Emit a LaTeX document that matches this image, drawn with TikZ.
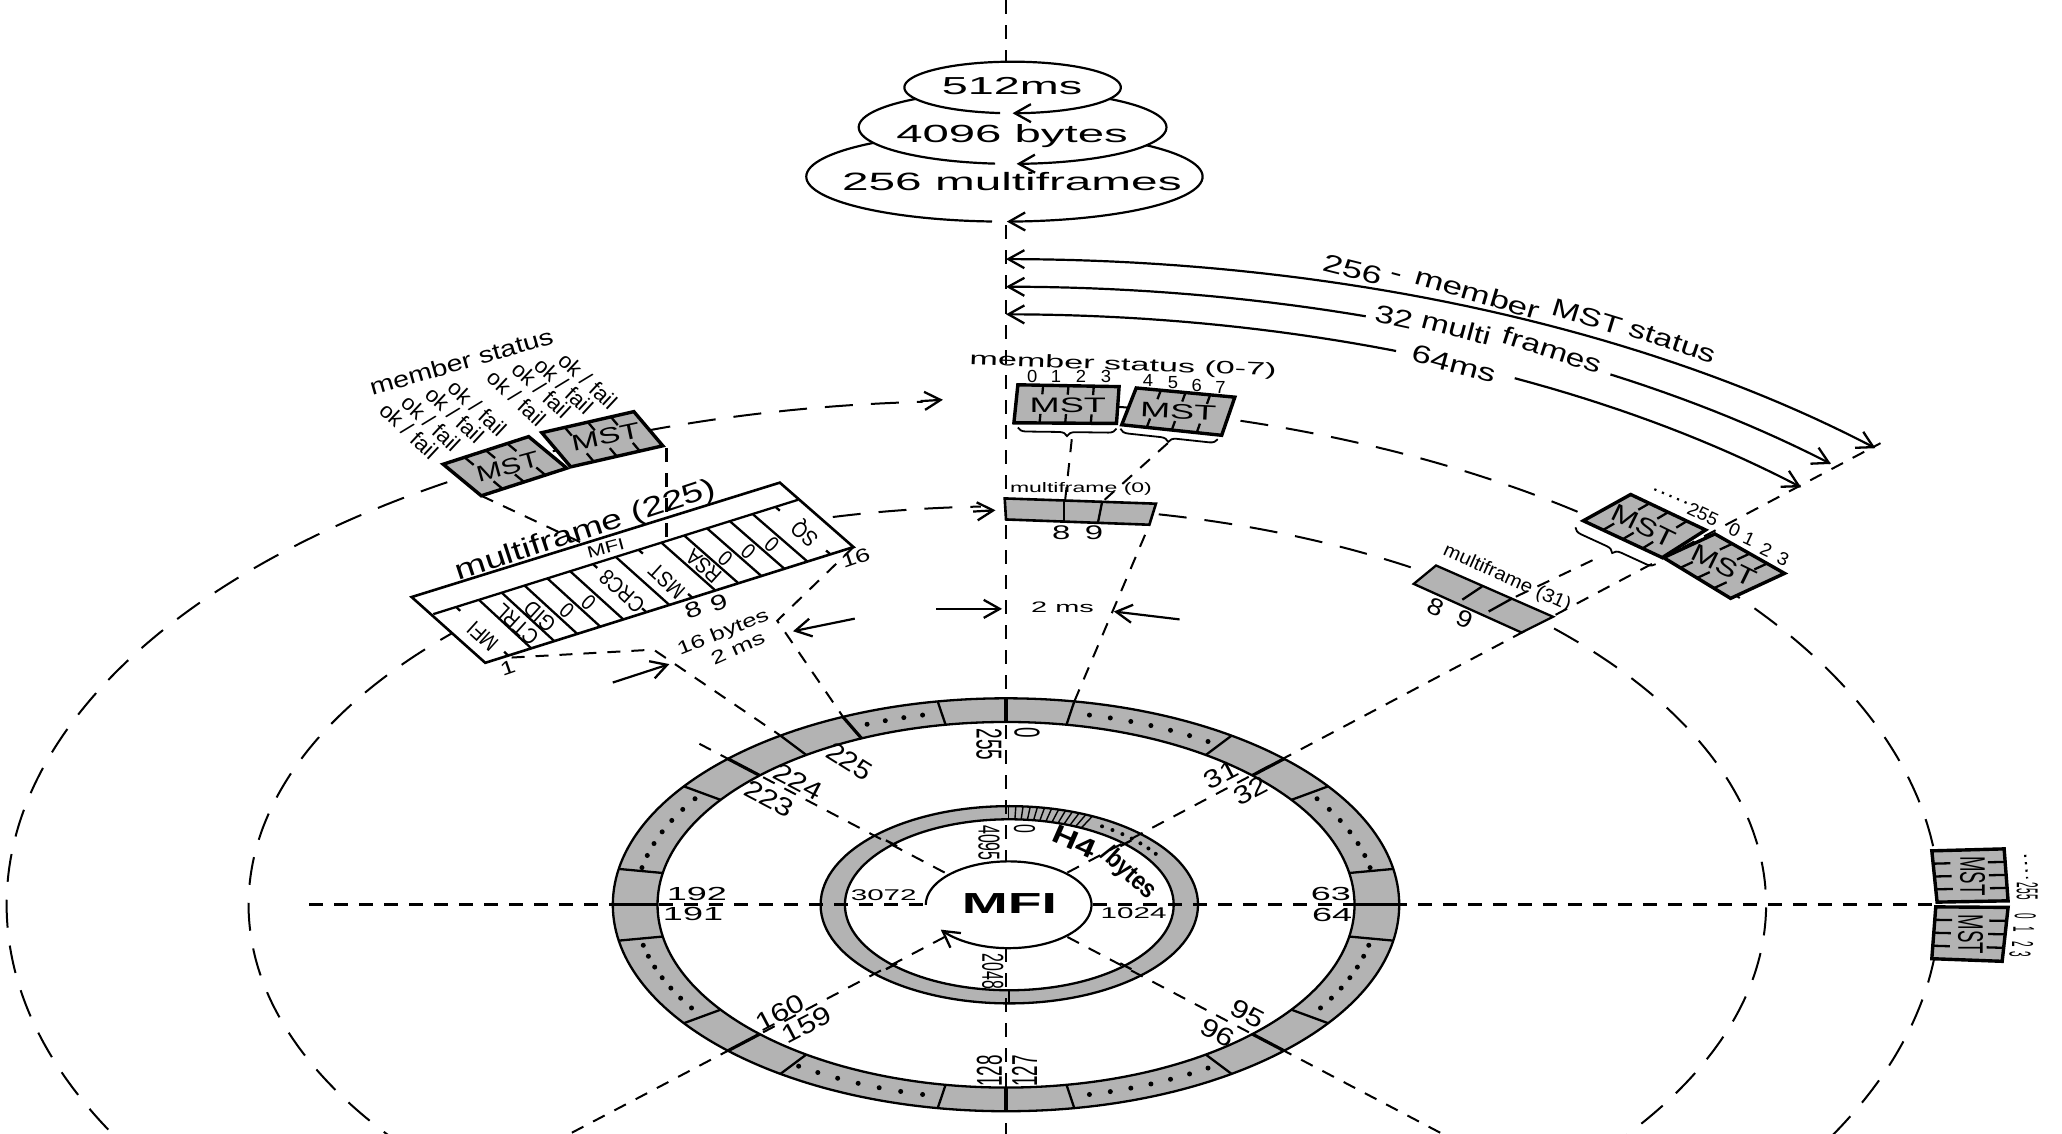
\documentclass[tikz,border=0pt]{standalone}
\usepackage{fontspec}
\setmainfont{Liberation Sans}
\usetikzlibrary{calc,arrows.meta,decorations.pathreplacing}
\definecolor{bandgray}{HTML}{B3B3B3}
\tikzset{
  lbl/.style={inner sep=0pt,outer sep=0pt,text=black},
  declare function={px(\t,\r)=765+\r*sin(\t); py(\t,\r)=688-.525*\r*cos(\t);},
  spoke/.style={line width=1pt,dash pattern=on 6.5pt off 5.5pt},
  axis/.style={line width=1.4pt,dash pattern=on 7pt off 5.5pt},
  ringd/.style={line width=1pt,dash pattern=on 14pt off 9pt},
  edge/.style={line width=1.15pt},
  boxedge/.style={line width=1.7pt,line join=miter},
  barb/.style={line width=1.1pt,>={Straight Barb[length=8pt,width=9pt,line width=1.15pt]}},
  br/.style={decorate,decoration={brace,amplitude=4pt,mirror},line width=.9pt}
}
% direct label: screen angle, em along the baseline, em across it
\newcommand\labs[7]{\node[lbl,shift={(#2,#3)},rotate=#4,xscale={#5/15.21},yscale={#6/15.21},transform shape] (#1) at (0,0) {#7};}
% label given by its angle before the vertical squash k
\newcommand\lab[8][]{%
  \pgfmathsetmacro\labphi{atan2(#6*sin(#5),cos(#5))}%
  \pgfmathsetmacro\labf{sqrt(cos(#5)*cos(#5)+#6*#6*sin(#5)*sin(#5))}%
  \node[lbl,#1,shift={(#3,#4)},rotate=\labphi,xscale={#7*\labf/15.21},yscale={#7*#6/\labf/15.21},transform shape] (#2) at (0,0) {#8};}
\newcommand\earc[7][]{\draw[#1] plot[domain=#6:#7,samples=120,smooth] ({#2+#4*sin(\x)},{#3-#5*cos(\x)});}
\newcommand\mstbox[9]{%
  \coordinate (#1a) at (#2,#3); \coordinate (#1b) at (#4,#5);
  \coordinate (#1c) at (#6,#7); \coordinate (#1d) at (#8,#9);
  \draw[boxedge,fill=bandgray] (#1a)--(#1b)--(#1c)--(#1d)--cycle;
  \foreach \f in {.25,.5,.75}{
    \draw[edge] ($(#1a)!\f!(#1b)$) -- ($($(#1a)!\f!(#1b)$)!.24!($(#1d)!\f!(#1c)$)$);
    \draw[edge] ($(#1d)!\f!(#1c)$) -- ($($(#1d)!\f!(#1c)$)!.24!($(#1a)!\f!(#1b)$)$);
  }}
\begin{document}
\begin{tikzpicture}[x=.6575pt,y=-.6575pt]
\useasboundingbox (0,0) rectangle (1568,862.3);
\clip (0,0) rectangle (1568,862.3);
% ---- rings
\coordinate (C) at (765,688);
\coordinate (Ci) at (767.5,688);
\draw[edge,fill=bandgray,even odd rule] (C) ellipse [x radius=299,y radius=157] (C) ellipse [x radius=265,y radius=139];
\draw[edge,fill=bandgray,even odd rule] (Ci) ellipse [x radius=143.5,y radius=75] (Ci) ellipse [x radius=125,y radius=65];
\foreach \t in {10,35,55,80,100,125,145,170,-10,-35,-55,-80,-100,-125,-145,-170}{
  \draw[edge] ({px(\t,265)},{py(\t,265)}) -- ({px(\t,299)},{py(\t,299)});}
\foreach \t in {0,45,90,135,180,-45,-90,-135,-24.5}{
  \draw[line width=1.6pt] ({px(\t,265)},{py(\t,265)}) -- ({px(\t,299)},{py(\t,299)});}
\foreach \a/\b/\n in {13/33/7,57/79/7,102/122/7,147/167/7,-13/-22/4,-57/-79/7,-102/-122/7,-146/-167/7}{
  \pgfmathtruncatemacro\nn{\n-1}
  \foreach \i in {0,...,\nn}{
    \pgfmathsetmacro\ttt{\a+(\b-\a)*\i/\nn}
    \fill ({px(\ttt,282)},{py(\ttt,282)}) circle [radius=1.25pt];
  }}
\foreach \t in {0,2.2,...,28}{
  \draw[line width=.7pt] ({px(\t,125)+2},{py(\t,125)}) -- ({px(\t,143)+2},{py(\t,143)});}
\foreach \i in {0,...,6}{
  \pgfmathsetmacro\ttt{32+\i*4.1}
  \fill ({px(\ttt,134)+2},{py(\ttt,134)}) circle [radius=1pt];
}
\foreach \t in {45,135,-45,-135}{
  \draw[edge] ({px(\t,120)+2},{py(\t,120)}) -- ({px(\t,132)+2},{py(\t,132)});}
\draw[edge] ({px(180,125)+2},{py(180,125)}) -- ({px(180,143)+2},{py(180,143)});
% hub
\draw[barb,->] plot[domain=-90:235,samples=100,smooth] ({767+63*sin(\x)},{688-33*cos(\x)});
% ---- axes and spokes
\coordinate (vT) at (765,0); \coordinate (vH) at (765,655);
\coordinate (vB) at (765,721); \coordinate (vE) at (765,862);
\coordinate (hL) at (235,688); \coordinate (hM) at (704,688);
\coordinate (hN) at (831,688); \coordinate (hR) at (1470,688);
\coordinate (sp45e) at (1430,337);
\draw[axis] (vT) -- (vH);
\draw[axis] (vB) -- (vE);
\draw[axis] (hL) -- (hM);
\draw[axis] (hN) -- (hR);
\draw[spoke] ({px(45,66)},{py(45,66)}) -- (sp45e);
\draw[spoke] ({px(-45,66)},{py(-45,66)}) -- ({px(-45,337)},{py(-45,337)});
\draw[spoke] ({px(135,66)},{py(135,66)}) -- ({px(135,720)},{py(135,720)});
\draw[spoke] ({px(-135,66)},{py(-135,66)}) -- ({px(-135,720)},{py(-135,720)});
% ---- dashed big ellipses
\earc[ringd]{740}{688}{735}{383}{-160}{-3}
\earc[ringd]{740}{688}{735}{383}{5}{160}
\earc[ringd]{766}{688}{577}{303}{-160}{-2}
\earc[ringd]{766}{688}{577}{303}{8}{160}
\coordinate (a1s) at (700,305); \coordinate (a1e) at (717,304);
\draw[barb,->] (a1s) -- (a1e);
\coordinate (a2s) at (740,389); \coordinate (a2e) at (757,388);
\draw[barb,->] (a2s) -- (a2e);
% ---- stacked ellipses
\fill[white] (763.8,134.3) ellipse [x radius=150.7,y radius=34.2];
\earc[barb,->]{763.8}{134.3}{150.7}{34.2}{183.6}{539.3}
\fill[white] (770,96.8) ellipse [x radius=117,y radius=27.8];
\earc[barb,->]{770}{96.8}{117}{27.8}{186.5}{538.5}
\fill[white] (770,66.5) ellipse [x radius=82.3,y radius=19.6];
\earc[barb,->]{770}{66.5}{82.3}{19.6}{186.6}{540}
\lab{e1}{769.6}{65.6}{0}{.525}{35.6}{512ms}
\lab{e2}{769.6}{103.5}{0}{.525}{36}{4096 bytes}
\lab{e3}{769.5}{138}{0}{.525}{36.3}{256 multiframes}
% ---- big arcs with text
\earc[barb,<->]{765}{688}{935}{491}{0}{45}
\earc[barb,<-]{765}{688}{895}{470}{0}{17.8}
\earc[barb,->]{765}{688}{895}{470}{30.9}{44.5}
\earc[barb,<-]{765}{688}{855}{449}{0}{20.3}
\earc[barb,->]{765}{688}{855}{449}{26.9}{45}
\labs{a11}{1028.5}{205}{-14}{27.3}{19}{256}
\labs{a12}{1061}{211}{-15}{27}{19}{-}
\labs{a13}{1123.5}{223}{-16.5}{26.7}{19}{member}
\labs{a14}{1207}{241}{-17}{25.6}{19}{MST}
\labs{a15}{1272}{260}{-18.5}{25.5}{19}{status}
\labs{a21}{1060}{241}{-12}{26}{19}{32}
\labs{a22}{1107.5}{249.5}{-15}{25.5}{19}{multi}
\labs{a23}{1180.5}{266}{-18}{25.5}{19}{frames}
\labs{a31}{1105.5}{276.6}{-15}{26.7}{19}{64ms}
% ---- top MST boxes
\mstbox{ma}{774}{292.6}{851}{294}{849}{322}{771}{321.5}
\mstbox{mb}{864}{295}{939}{302}{929}{331}{853}{323}
\lab{mat}{812}{308}{0}{.58}{27.5}{MST}
\lab{mbt}{896}{313}{-5}{.58}{27.5}{MST}
\lab{ms07}{854}{278}{-4}{.525}{26}{member status (0-7)}
\foreach \n/\x/\y in {0/785/286,1/803/286,2/822/286,3/841/286,4/873/289,5/892/291,6/910/293,7/928/295}{
  \lab{dg\n}{\x}{\y}{0}{.95}{14}{\n}}
\coordinate (bra) at (774,325); \coordinate (brb) at (849,326);
\coordinate (brc) at (852,326); \coordinate (brd) at (926,334);
\draw[br] (bra) -- (brb);
\draw[br] (brc) -- (brd);
\coordinate (bt1) at (815,334); \coordinate (mfd1) at (810,380);
\coordinate (bt2) at (888,337); \coordinate (mfd2) at (840,380);
\draw[spoke] (bt1) -- (mfd1);
\draw[spoke] (bt2) -- (mfd2);
% ---- multiframe 0
\coordinate (f0a) at (764,379); \coordinate (f0b) at (879,383);
\coordinate (f0c) at (874,399); \coordinate (f0d) at (765,395);
\draw[spoke] ({px(10,299)},{py(10,299)}) -- (f0c);
\draw[boxedge,line width=1.3pt,fill=bandgray] (f0a)--(f0b)--(f0c)--(f0d)--cycle;
\coordinate (f0e) at (809,380); \coordinate (f0f) at (809,396);
\coordinate (f0g) at (838,382); \coordinate (f0h) at (835,397);
\draw[edge] (f0e) -- (f0f);
\draw[edge] (f0g) -- (f0h);
\lab{mf0}{822}{372}{0}{.6}{17.5}{multiframe (0)}
\lab{f08}{807}{405}{0}{.6}{25}{8}
\lab{f09}{832}{405}{0}{.6}{25}{9}
% ---- 2 ms
\coordinate (m1) at (712,463); \coordinate (m2) at (762,463);
\coordinate (m3) at (897,471); \coordinate (m4) at (847,465);
\draw[barb,->] (m1) -- (m2);
\draw[barb,->] (m3) -- (m4);
\lab{twoms}{808}{462}{0}{.525}{22}{2 ms}
% ---- right MST boxes
\coordinate (br1) at (1211,426); \coordinate (br2) at (1150,455);
\draw[spoke] (br1) -- (br2);
\mstbox{mc}{1240}{376}{1297}{403}{1264}{424}{1204}{396}
\mstbox{md}{1304}{406}{1357}{436}{1316}{455}{1265}{424}
\labs{mct}{1250}{400}{-26}{24.5}{19}{MST}
\labs{mdt}{1311}{430}{-26}{24.5}{19}{MST}
\coordinate (bre) at (1198,401); \coordinate (brf) at (1259,429);
\draw[br] (bre) -- (brf);
\coordinate (dd1) at (1258,372); \coordinate (dd2) at (1284,383);
\draw[line width=1.1pt,dash pattern=on 1.1pt off 3pt] (dd1) -- (dd2);
\labs{r255}{1295}{391}{-25}{14.5}{14}{255}
\labs{r0}{1319}{403}{-25}{14.5}{14}{0}
\labs{r1}{1330}{410}{-25}{14.5}{14}{1}
\labs{r2}{1343}{418}{-25}{14.5}{14}{2}
\labs{r3}{1356}{425}{-25}{14.5}{14}{3}
% ---- multiframe 31
\coordinate (g0a) at (1092,430); \coordinate (g0b) at (1181,469);
\coordinate (g0c) at (1157,481); \coordinate (g0d) at (1075,444);
\draw[edge,fill=bandgray] (g0a)--(g0b)--(g0c)--(g0d)--cycle;
\coordinate (g0e) at (1127,446); \coordinate (g0f) at (1112,456);
\coordinate (g0g) at (1150,455); \coordinate (g0h) at (1132,465);
\draw[edge] (g0e) -- (g0f);
\draw[edge] (g0g) -- (g0h);
\labs{mf31}{1146}{440}{-24.3}{15.6}{14.5}{multiframe (31)}
\labs{g08}{1092}{462}{-24}{21}{18}{8}
\labs{g09}{1114}{471}{-24}{21}{18}{9}
% ---- far right MST boxes
\mstbox{me}{1524}{645.5}{1527}{685}{1473}{686}{1469}{647}
\mstbox{mf}{1527}{690}{1522.5}{731}{1469}{729}{1472}{689.6}
\lab{met}{1500}{666}{-90}{.525}{27}{MST}
\lab{mft}{1498.5}{710.6}{-90}{.525}{27}{MST}
\coordinate (de1) at (1540,650); \coordinate (de2) at (1541.5,668);
\draw[line width=1.1pt,dash pattern=on 1.1pt off 2.6pt] (de1) -- (de2);
\lab{e255}{1541.5}{677.7}{-90}{.33}{23}{255}
\lab{e0}{1540}{696.7}{-90}{.33}{23}{0}
\lab{e1b}{1539}{707}{-90}{.33}{23}{1}
\lab{e2b}{1538}{718}{-90}{.33}{23}{2}
\lab{e3b}{1536}{726}{-90}{.33}{23}{3}
% ---- left part: byte connectors
\coordinate (lp1) at (389,500); \coordinate (lp2) at (497,494);
\coordinate (lp3) at (593,559);
\draw[spoke] (lp1) -- (lp2) -- (lp3);
\coordinate (lq2) at (591,472); \coordinate (lq3) at (641,545);
% multiframe 225
\coordinate (mA) at (313,454); \coordinate (mB) at (593,367);
\coordinate (mC) at (649,416); \coordinate (mD) at (369,504);
\coordinate (mS) at (329.5,467); \coordinate (mT) at (607,380);
\draw[boxedge,line width=1.3pt,fill=white] (mA)--(mB)--(mC)--(mD)--cycle;
\draw[spoke] (mC) -- (lq2) -- (lq3);
\draw[edge] (mS) -- (mT);
\foreach \k in {2,3,4,5,6,8,10,11,12,13,14}{
  \draw[edge] ($(mD)!\k/16!(mC)$) -- ($(mS)!\k/16!(mT)$);}
\foreach \k in {1,7,9,15}{
  \draw[edge] ($(mD)!\k/16!(mC)$) -- ($($(mD)!\k/16!(mC)$)!.08!($(mS)!\k/16!(mT)$)$);
  \draw[edge] ($(mS)!\k/16!(mT)$) -- ($($(mS)!\k/16!(mT)$)!.08!($(mD)!\k/16!(mC)$)$);
}
\lab{ft1}{367}{484}{120}{.525}{21.5}{MFI}
\lab{ft2}{393}{475}{120}{.525}{21.5}{CTRL}
\lab{ft3}{410.4}{468.6}{120}{.525}{21.5}{GID}
\lab{ft4}{431}{464}{120}{.525}{21.5}{0}
\lab{ft5}{447.6}{458.5}{120}{.525}{21.5}{0}
\lab{ft6}{473}{449.6}{120}{.525}{21.5}{CRC8}
\lab{ft7}{507}{442}{120}{.525}{21.5}{MST}
\lab{ft8}{535}{430.6}{120}{.525}{21.5}{RSA}
\lab{ft9}{551.5}{425}{120}{.525}{21.5}{0}
\lab{ft10}{569}{419}{120}{.525}{21.5}{0}
\lab{ft11}{587}{414}{120}{.525}{21.5}{0}
\lab{ft12}{612.6}{405}{120}{.525}{21.5}{SQ}
\labs{ftm}{460.6}{416.7}{15}{16.8}{12.4}{MFI}
\labs{mf225}{445.5}{404}{18.2}{28.5}{21}{multiframe (225)}
\lab{m8}{527}{464}{30}{.6}{25}{8}
\lab{m9}{546.6}{458}{30}{.6}{25}{9}
\lab{m1l}{386}{508}{30}{.6}{22}{1}
\lab{m16}{650.6}{424.3}{30}{.6}{22}{16}
\labs{b16}{550}{481.3}{22}{19.5}{14}{16 bytes}
\labs{b2}{561}{493}{24}{20}{14}{2 ms}
\coordinate (aa1) at (466,519); \coordinate (aa2) at (509,505);
\coordinate (ab1) at (650,470.4); \coordinate (ab2) at (603,480);
\draw[barb,->] (aa1) -- (aa2);
\draw[barb,->] (ab1) -- (ab2);
% left MST boxes
\coordinate (mx1) at (507,341); \coordinate (mx2) at (507,415);
\draw[axis] (mx1) -- (mx2);
\coordinate (my1) at (366,377); \coordinate (my2) at (448,415.4);
\draw[spoke] (my1) -- (my2);
\mstbox{mg}{337}{353}{402}{332}{431}{356}{366}{377}
\mstbox{mh}{412}{329}{482}{313}{504}{339}{434}{355}
\labs{mgt}{386}{355}{15.5}{23}{17}{MST}
\labs{mht}{460.6}{332}{12}{25}{17}{MST}
\labs{mstat}{350.7}{275}{16}{21.8}{17.5}{member status}
\foreach \n/\x/\y in {1/311/327.5,2/327.6/321.7,3/345.8/315.4,4/362.9/310.3,5/392.7/302.7,6/411.7/296.4,7/428.8/293.4,8/447/289.6}{
  \labs{okf\n}{\x}{\y}{-43}{17}{16.5}{ok / fail}}
% ---- ring labels
\lab{l255}{752}{566}{-90}{.525}{27.4}{255}
\lab{l0}{781}{557}{-90}{.525}{27.4}{0}
\lab{l225}{646}{579}{-50}{.525}{29}{225}
\lab{l224}{607}{594}{-45}{.525}{29.5}{224}
\lab{l223}{585}{607}{-45}{.525}{29.5}{223}
\lab{l192}{530}{680}{0}{.525}{27.4}{192}
\lab{l191}{527}{695}{0}{.525}{27.4}{191}
\lab{l160}{593}{770}{45}{.525}{29.5}{160}
\lab{l159}{613.4}{779}{45}{.525}{29.5}{159}
\lab{l128}{752.4}{814.4}{90}{.525}{27.4}{128}
\lab{l127}{779}{814.4}{90}{.525}{27.4}{127}
\lab{l31}{928.5}{589}{45}{.525}{29.5}{31}
\lab{l32}{951}{601.6}{45}{.525}{29.5}{32}
\lab{l63}{1012}{680}{0}{.525}{27.4}{63}
\lab{l64}{1013}{696}{0}{.525}{27.4}{64}
\lab{l95}{949}{771}{-45}{.525}{29.5}{95}
\lab{l96}{926}{785}{-45}{.525}{29.5}{96}
\lab{l4095}{752}{641}{-90}{.525}{23}{4095}
\lab{li0}{779}{630}{-90}{.525}{23}{0}
\lab{l3072}{672}{681}{0}{.525}{22.5}{3072}
\lab{l1024}{862}{694}{0}{.525}{22.5}{1024}
\lab{l2048}{755}{738.5}{-90}{.525}{23}{2048}
\lab[font=\bfseries]{lh4}{817}{640}{-40}{.525}{32}{H4}
\lab[font=\bfseries]{lby}{858}{664}{-60}{.525}{25.5}{/bytes}
\lab[font=\bfseries]{lmfi}{767.6}{687}{0}{.525}{42}{MFI}
\end{tikzpicture}
\end{document}
